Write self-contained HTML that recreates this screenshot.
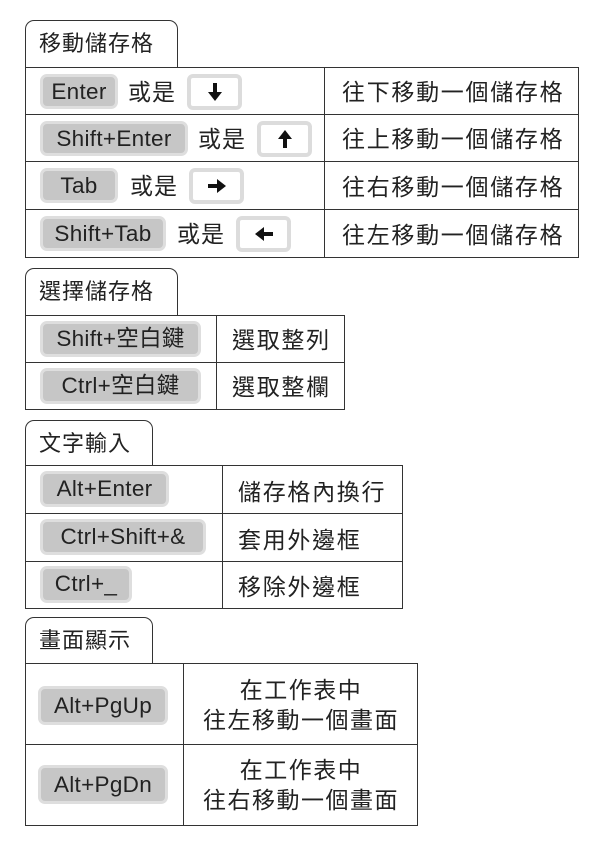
<!DOCTYPE html>
<html><head><meta charset="utf-8"><style>
body{margin:0;width:600px;height:845px;background:#fff;position:relative;overflow:hidden;font-family:"Liberation Sans","Noto Sans CJK TC",sans-serif;color:#222}
div{position:absolute;box-sizing:border-box}
.tab{border:1.5px solid #333;border-bottom:none;border-radius:9px 9px 0 0;background:#fff;font-size:22px;padding-left:13px;line-height:46px;letter-spacing:1px}
.tb{border:1.5px solid #333}
.h{height:0;border-top:1.5px solid #333}
.v{width:0;border-left:1.5px solid #333}
.k{background:#c6c6c6;border:3px solid #dedede;border-radius:7px;font-size:22.5px;text-align:center;line-height:30px;color:#222;letter-spacing:0.3px;white-space:nowrap}
.a{background:#fff;border:4px solid #dcdcdc;border-radius:6px}
.a svg{position:absolute;left:50%;top:50%;transform:translate(-50%,-50%)}
.t{font-size:23px;white-space:nowrap;letter-spacing:1px;margin-top:-3px}
.r{font-size:23px;white-space:nowrap;letter-spacing:1.7px;margin-top:-4px}
.c{font-size:23px;text-align:center;line-height:30px;letter-spacing:1.5px}
</style></head><body>
<!-- section 1 -->
<div class="tab" style="left:25px;top:20px;width:153px;height:48px">移動儲存格</div>
<div class="tb" style="left:25px;top:67px;width:554px;height:191px"></div>
<div class="h" style="left:25px;top:114px;width:554px"></div>
<div class="h" style="left:25px;top:161px;width:554px"></div>
<div class="h" style="left:25px;top:209px;width:554px"></div>
<div class="v" style="left:324px;top:67px;height:191px"></div>
<div class="k" style="left:40px;top:74px;width:78px;height:35px">Enter</div>
<div class="t" style="left:128px;top:76px">或是</div>
<div class="a" style="left:187px;top:74px;width:55px;height:36px"><svg width="14" height="18" viewBox="0 0 14 18"><rect x="5" y="0" width="4" height="10" fill="#111"/><polygon points="0,9 14,9 7,18" fill="#111"/></svg></div>
<div class="r" style="left:342px;top:77px">往下移動一個儲存格</div>
<div class="k" style="left:40px;top:121px;width:148px;height:35px">Shift+Enter</div>
<div class="t" style="left:198px;top:123px">或是</div>
<div class="a" style="left:257px;top:121px;width:55px;height:36px"><svg width="14" height="18" viewBox="0 0 14 18"><rect x="5" y="8" width="4" height="10" fill="#111"/><polygon points="0,9 14,9 7,0" fill="#111"/></svg></div>
<div class="r" style="left:342px;top:124px">往上移動一個儲存格</div>
<div class="k" style="left:40px;top:168px;width:78px;height:35px">Tab</div>
<div class="t" style="left:130px;top:170px">或是</div>
<div class="a" style="left:189px;top:168px;width:55px;height:36px"><svg width="18" height="14" viewBox="0 0 18 14"><rect x="0" y="5" width="10" height="4" fill="#111"/><polygon points="9,0 9,14 18,7" fill="#111"/></svg></div>
<div class="r" style="left:342px;top:172px">往右移動一個儲存格</div>
<div class="k" style="left:40px;top:216px;width:126px;height:35px">Shift+Tab</div>
<div class="t" style="left:177px;top:218px">或是</div>
<div class="a" style="left:236px;top:216px;width:55px;height:36px"><svg width="18" height="14" viewBox="0 0 18 14"><rect x="8" y="5" width="10" height="4" fill="#111"/><polygon points="9,0 9,14 0,7" fill="#111"/></svg></div>
<div class="r" style="left:342px;top:220px">往左移動一個儲存格</div>
<!-- section 2 -->
<div class="tab" style="left:25px;top:268px;width:153px;height:48px">選擇儲存格</div>
<div class="tb" style="left:25px;top:315px;width:320px;height:95px"></div>
<div class="h" style="left:25px;top:362px;width:320px"></div>
<div class="v" style="left:216px;top:315px;height:95px"></div>
<div class="k" style="left:40px;top:321px;width:161px;height:36px">Shift+空白鍵</div>
<div class="r" style="left:232px;top:325px">選取整列</div>
<div class="k" style="left:40px;top:368px;width:161px;height:36px">Ctrl+空白鍵</div>
<div class="r" style="left:232px;top:372px">選取整欄</div>
<!-- section 3 -->
<div class="tab" style="left:25px;top:420px;width:128px;height:46px">文字輸入</div>
<div class="tb" style="left:25px;top:465px;width:378px;height:144px"></div>
<div class="h" style="left:25px;top:513px;width:378px"></div>
<div class="h" style="left:25px;top:561px;width:378px"></div>
<div class="v" style="left:222px;top:465px;height:144px"></div>
<div class="k" style="left:40px;top:471px;width:129px;height:36px">Alt+Enter</div>
<div class="r" style="left:238px;top:477px">儲存格內換行</div>
<div class="k" style="left:40px;top:519px;width:166px;height:36px">Ctrl+Shift+&amp;</div>
<div class="r" style="left:238px;top:525px">套用外邊框</div>
<div class="k" style="left:40px;top:566px;width:92px;height:37px">Ctrl+_</div>
<div class="r" style="left:238px;top:572px">移除外邊框</div>
<!-- section 4 -->
<div class="tab" style="left:25px;top:617px;width:128px;height:47px">畫面顯示</div>
<div class="tb" style="left:25px;top:663px;width:393px;height:163px"></div>
<div class="h" style="left:25px;top:744px;width:393px"></div>
<div class="v" style="left:183px;top:663px;height:163px"></div>
<div class="k" style="left:38px;top:686px;width:130px;height:39px;line-height:33px">Alt+PgUp</div>
<div class="c" style="left:184px;top:675px;width:234px">在工作表中<br>往左移動一個畫面</div>
<div class="k" style="left:38px;top:765px;width:130px;height:39px;line-height:33px">Alt+PgDn</div>
<div class="c" style="left:184px;top:755px;width:234px">在工作表中<br>往右移動一個畫面</div>
</body></html>
